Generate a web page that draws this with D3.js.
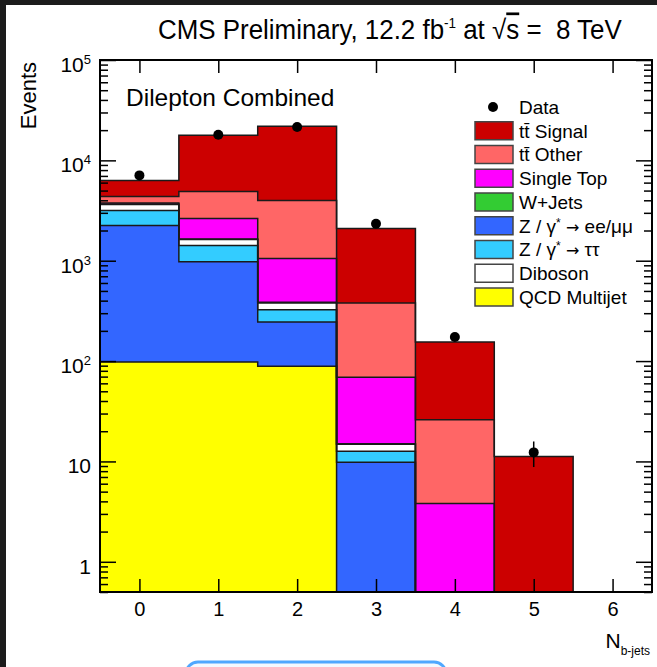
<!DOCTYPE html>
<html>
<head>
<meta charset="utf-8">
<script src="https://cdn.jsdelivr.net/npm/d3@7"></script>
<style>
  html, body { margin: 0; padding: 0; background: #1c1c1c; }
  svg { display: block; }
  text { font-family: "Liberation Sans", Arial, Helvetica, sans-serif; fill: #000; }
</style>
</head>
<body>
<svg id="chart" width="657" height="667"></svg>
<script>
// --- Data --------------------------------------------------------------
const bins = [0, 1, 2, 3, 4, 5, 6];
const qcd       = [98, 98, 89, 0, 0, 0, 0];
const zll       = [2140, 880, 156, 9.8, 0, 0, 0];
const ztautau   = [920, 436, 79, 2.8, 0, 0, 0];
const diboson   = [468, 209, 56, 2.2, 0, 0, 0];
const wjets     = [40, 25, 6, 0.2, 0, 0, 0];
const singleTop = [100, 983, 664, 54, 3.8, 0, 0];
const ttOther   = [595, 2270, 2930, 311, 22.2, 0, 0];
const ttSignal  = [1935, 12900, 17900, 1710, 129, 11.2, 0];
const observed  = [7080, 18000, 21500, 2340, 174, 12.3, null];

const yMajor = [1, 10, 100, 1e3, 1e4, 1e5];
const yMajorLabels = [['1', ''], ['10', ''], ['10', '2'], ['10', '3'], ['10', '4'], ['10', '5']];

// stack order, bottom to top
const layers = [
  { key: 'qcd',       label: 'QCD Multijet',      color: '#ffff00', values: qcd },
  { key: 'zll',       label: 'Z / γ* → ee/μμ',    color: '#3366ff', values: zll },
  { key: 'ztautau',   label: 'Z / γ* → ττ',       color: '#33ccff', values: ztautau },
  { key: 'diboson',   label: 'Diboson',           color: '#ffffff', values: diboson },
  { key: 'wjets',     label: 'W+Jets',            color: '#33cc33', values: wjets },
  { key: 'singleTop', label: 'Single Top',        color: '#ff00ff', values: singleTop },
  { key: 'ttOther',   label: 'tt\u0304 Other',    color: '#ff6666', values: ttOther },
  { key: 'ttSignal',  label: 'tt\u0304 Signal',   color: '#cc0000', values: ttSignal },
];
// legend order as printed on the plot
const legendOrder = ['ttSignal', 'ttOther', 'singleTop', 'wjets', 'zll', 'ztautau', 'diboson', 'qcd'];

// --- Setup --------------------------------------------------------------
const svg = d3.select('#chart');
const X0 = 100, X1 = 652, Y0 = 60, Y1 = 592;

// white page area of the screenshot
svg.append('rect').attr('x', 6).attr('y', 5).attr('width', 651).attr('height', 662).attr('fill', '#fff');

const x = d3.scaleLinear().domain([-0.5, 6.5]).range([X0, X1]);
const y = d3.scaleLog().domain([0.5, 1e5]).range([Y1, Y0]).clamp(true);
const yv = v => y(Math.max(v, 0.01));

// --- Stacked histogram (filled steps + step outlines) -------------------
const table = bins.map((b, i) => {
  const row = { bin: b };
  layers.forEach(l => { row[l.key] = l.values[i]; });
  return row;
});
const stacked = d3.stack().keys(layers.map(l => l.key))(table);

// two points per bin so the shape is a step histogram
const stepPoints = series => series.flatMap(d => [
  { x: x(d.data.bin - 0.5), lo: d[0], hi: d[1] },
  { x: x(d.data.bin + 0.5), lo: d[0], hi: d[1] },
]);

const area = d3.area().x(p => p.x).y0(p => yv(p.lo)).y1(p => yv(p.hi));
const topLine = d3.line().x(p => p.x).y(p => yv(p.hi));

const plot = svg.append('g');
stacked.forEach((series, li) => {
  plot.append('path')
    .attr('d', area(stepPoints(series)))
    .attr('fill', layers[li].color)
    .attr('stroke', 'none');
});
stacked.forEach(series => {
  plot.append('path')
    .attr('d', topLine(stepPoints(series)))
    .attr('fill', 'none')
    .attr('stroke', '#1a1a1a')
    .attr('stroke-width', 1.5);
});

// --- Data points --------------------------------------------------------
const pts = bins.map((b, i) => ({ bin: b, v: observed[i] })).filter(d => d.v != null);
plot.append('g').selectAll('line')
  .data(pts)
  .join('line')
  .attr('x1', d => x(d.bin)).attr('x2', d => x(d.bin))
  .attr('y1', d => yv(d.v + Math.sqrt(d.v)))
  .attr('y2', d => yv(d.v - Math.sqrt(d.v)))
  .attr('stroke', '#000')
  .attr('stroke-width', 1.5);
plot.append('g').selectAll('circle')
  .data(pts)
  .join('circle')
  .attr('cx', d => x(d.bin))
  .attr('cy', d => y(d.v))
  .attr('r', 5)
  .attr('fill', '#000');

// --- Axes (ticks point inward, ROOT style) ------------------------------
const yMinor = [];
[0.1, 1, 10, 100, 1000, 10000].forEach(dec => {
  for (let k = 2; k <= 9; k++) {
    const v = k * dec;
    if (v >= 0.5 && v <= 1e5) yMinor.push(v);
  }
});

function styleAxis(g) {
  g.select('.domain').remove();
  g.selectAll('line').attr('stroke', '#000').attr('stroke-width', 1.5);
}

svg.append('g').attr('transform', `translate(0,${Y1})`)
  .call(d3.axisBottom(x).tickValues(bins).tickSizeInner(-13).tickSizeOuter(0).tickPadding(10).tickFormat(d3.format('d')))
  .call(styleAxis)
  .call(g => g.selectAll('text').attr('font-size', 20).attr('font-family', '"Liberation Sans", Arial, sans-serif').attr('fill', '#000'));

svg.append('g').attr('transform', `translate(0,${Y0})`)
  .call(d3.axisTop(x).tickValues(bins).tickSizeInner(-13).tickSizeOuter(0).tickFormat(''))
  .call(styleAxis);

svg.append('g').attr('transform', `translate(${X0},0)`)
  .call(d3.axisLeft(y).tickValues(yMajor).tickSizeInner(-16).tickSizeOuter(0).tickFormat(''))
  .call(styleAxis);
svg.append('g').attr('transform', `translate(${X0},0)`)
  .call(d3.axisLeft(y).tickValues(yMinor).tickSizeInner(-8).tickSizeOuter(0).tickFormat(''))
  .call(styleAxis);
svg.append('g').attr('transform', `translate(${X1},0)`)
  .call(d3.axisRight(y).tickValues(yMajor).tickSizeInner(-16).tickSizeOuter(0).tickFormat(''))
  .call(styleAxis);
svg.append('g').attr('transform', `translate(${X1},0)`)
  .call(d3.axisRight(y).tickValues(yMinor).tickSizeInner(-8).tickSizeOuter(0).tickFormat(''))
  .call(styleAxis);

// y labels with exponents
const yl = svg.append('g').selectAll('text')
  .data(yMajor)
  .join('text')
  .attr('x', 91)
  .attr('y', d => y(d) + 12)
  .attr('text-anchor', 'end')
  .attr('font-size', 21);
yl.each(function (d, i) {
  const t = d3.select(this);
  const [base, exp] = yMajorLabels[i];
  t.append('tspan').text(base);
  if (exp) t.append('tspan').attr('font-size', 13).attr('dy', -8).text(exp);
});

// frame
svg.append('rect')
  .attr('x', X0).attr('y', Y0)
  .attr('width', X1 - X0).attr('height', Y1 - Y0)
  .attr('fill', 'none').attr('stroke', '#000').attr('stroke-width', 2);

// --- Axis titles ----------------------------------------------------------
svg.append('text')
  .attr('transform', 'translate(36,62) rotate(-90)')
  .attr('text-anchor', 'end')
  .attr('font-size', 22)
  .text('Events');

const xt = svg.append('text').attr('x', 650).attr('y', 648).attr('text-anchor', 'end').attr('font-size', 21);
xt.append('tspan').text('N');
xt.append('tspan').attr('font-size', 12).attr('dy', 7).text('b-jets');

// --- Title and label ------------------------------------------------------
const title = svg.append('text')
  .attr('x', 158).attr('y', 39)
  .attr('font-size', 27)
  .style('white-space', 'pre');
title.append('tspan').text('CMS Preliminary, 12.2 fb');
title.append('tspan').attr('font-size', 14).attr('dy', -11).text('-1');
title.append('tspan').attr('dy', 11).text(' at ');
title.append('tspan').text('√');
title.append('tspan').style('text-decoration', 'overline').text('s');
title.append('tspan').text(' =  8 TeV');
// squeeze to the reference width
const tw = title.node().getComputedTextLength();
if (tw > 0) title.attr('transform', `translate(158,0) scale(${464 / tw},1) translate(-158,0)`);

svg.append('text')
  .attr('x', 126).attr('y', 106)
  .attr('font-size', 24.5)
  .text('Dilepton Combined');

// --- Legend -----------------------------------------------------------------
const byKey = Object.fromEntries(layers.map(l => [l.key, l]));
const legendItems = [{ label: 'Data', data: true }].concat(legendOrder.map(k => byKey[k]));
const leg = svg.append('g').selectAll('g')
  .data(legendItems)
  .join('g')
  .attr('transform', (d, i) => `translate(475,${107 + 23.75 * i})`);

leg.filter(d => d.data).append('circle').attr('cx', 18).attr('cy', 0).attr('r', 5).attr('fill', '#000');
leg.filter(d => !d.data).append('rect')
  .attr('x', 0).attr('y', -9).attr('width', 38).attr('height', 18)
  .attr('fill', d => d.color)
  .attr('stroke', '#444').attr('stroke-width', 1.5);
leg.append('text')
  .attr('x', 44).attr('y', 0).attr('dy', '0.36em')
  .attr('font-size', 19)
  .style('white-space', 'pre')
  .each(function (d) {
    // raise the '*' and draw the arrow in a font where it is full width
    const t = d3.select(this);
    let back = 0;
    d.label.split(/(\*|→)/).filter(s => s.length).forEach(part => {
      let sp;
      if (part === '*') {
        sp = t.append('tspan').attr('font-size', 12).attr('dy', -6).text('*');
        back = 6;
        return;
      }
      if (part === '→') sp = t.append('tspan').attr('font-family', '"DejaVu Sans"').attr('font-size', 16).text('→');
      else sp = t.append('tspan').text(part);
      if (back) { sp.attr('dy', back); back = 0; }
    });
  });

// bit of the page's blue button peeking in at the bottom
svg.append('rect')
  .attr('x', 186).attr('y', 662).attr('width', 260).attr('height', 30).attr('rx', 12)
  .attr('fill', '#f4f9ff').attr('stroke', '#4fa8ff').attr('stroke-width', 3);
</script>
</body>
</html>
